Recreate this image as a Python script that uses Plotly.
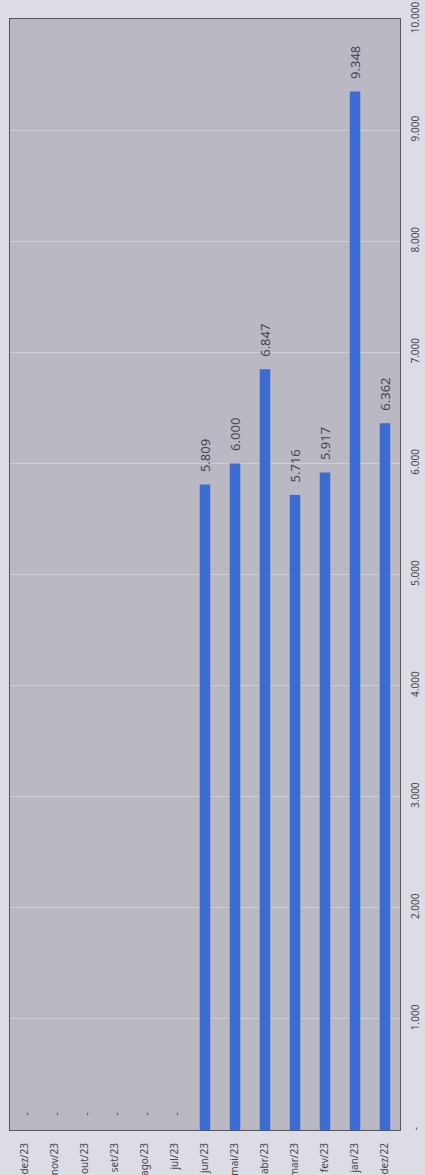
import plotly.graph_objects as go

categories = ["dez/23", "nov/23", "out/23", "set/23", "ago/23", "jul/23",
              "jun/23", "mai/23", "abr/23", "mar/23", "fev/23", "jan/23", "dez/22"]
values = [0, 0, 0, 0, 0, 0, 5809, 6000, 6847, 5716, 5917, 9348, 6362]
labels = ["-", "-", "-", "-", "-", "-", "5.809", "6.000", "6.847", "5.716", "5.917", "9.348", "6.362"]
tick_vals = [0, 1000, 2000, 3000, 4000, 5000, 6000, 7000, 8000, 9000, 10000]
tick_text = ["-", "1.000", "2.000", "3.000", "4.000", "5.000", "6.000", "7.000", "8.000", "9.000", "10.000"]

FONT = "Noto Sans"
TXT = "#45454c"

fig = go.Figure()
fig.add_trace(go.Bar(
    x=categories, y=values,
    marker=dict(color="#3c6bd2", line=dict(width=0)),
    width=0.35,
    hoverinfo="skip",
))

for c, v, t in zip(categories, values, labels):
    fig.add_annotation(
        x=c, y=v, text=t, showarrow=False, textangle=-90,
        xanchor="center", yanchor="bottom",
        yshift=10 if v > 0 else 12,
        font=dict(family=FONT, size=13 if v > 0 else 10, color=TXT),
    )

fig.update_layout(
    width=425, height=1175,
    margin=dict(l=10, r=25, t=19, b=45, autoexpand=False),
    paper_bgcolor="#dcdce4",
    plot_bgcolor="#b9b8c3",
    showlegend=False,
    bargap=0.65,
    font=dict(family=FONT, size=10, color=TXT),
)
fig.update_xaxes(
    type="category", categoryorder="array", categoryarray=categories,
    tickangle=-90, tickfont=dict(family=FONT, size=10, color=TXT),
    showline=True, linecolor="#55555c", linewidth=1, mirror=True,
    ticks="", ticklabelstandoff=8, showgrid=False, automargin=False,
)
fig.update_yaxes(
    range=[0, 10000], side="right",
    tickvals=tick_vals, ticktext=tick_text,
    tickangle=-90, tickfont=dict(family=FONT, size=10, color=TXT),
    showline=True, linecolor="#55555c", linewidth=1, mirror=True,
    showgrid=True, gridcolor="rgba(230,230,236,0.45)", gridwidth=1,
    zeroline=False, ticks="", ticklabelstandoff=6, automargin=False,
)

fig.write_html(
    "out.html",
    config={"displayModeBar": False, "staticPlot": True},
    post_script="document.body.style.margin='0';document.body.style.background='#dcdce4';",
)
